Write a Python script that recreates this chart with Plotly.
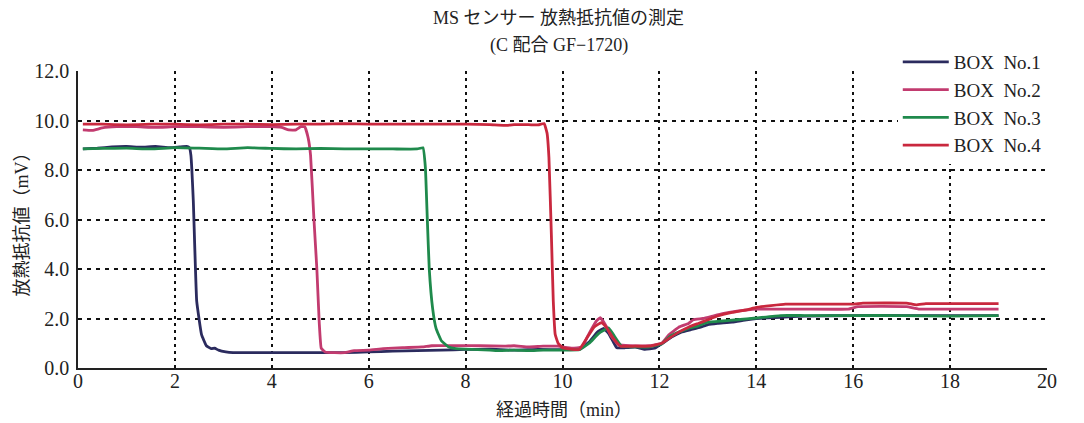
import plotly.graph_objects as go

# Elapsed time (min) and heat-dissipation resistance (mV) per box
box1_t = [0.1, 0.4, 0.7, 1.0, 1.3, 1.6, 1.9, 2.1, 2.25, 2.3, 2.33, 2.38, 2.45, 2.55, 2.65, 2.75, 2.82,
          2.9, 3.05, 3.2, 3.6, 4.0, 4.5, 5.0, 5.5, 6.0, 6.5, 7.0, 7.5, 8.0, 8.5, 9.0, 9.5, 10.0,
          10.35, 10.55, 10.72, 10.85, 10.95, 11.05, 11.12, 11.3, 11.5, 11.7, 11.9, 12.05, 12.25,
          12.45, 12.65, 12.85, 13.0, 13.2, 13.5, 13.8, 14.0, 14.5, 15.0, 16.0, 17.0, 18.0, 19.0]
box1_v = [8.85, 8.88, 8.93, 8.95, 8.92, 8.95, 8.9, 8.93, 8.95, 8.9, 8.6, 6.75, 2.7, 1.35, 0.9, 0.78, 0.8,
          0.72, 0.65, 0.62, 0.62, 0.62, 0.62, 0.62, 0.62, 0.65, 0.68, 0.7, 0.72, 0.75, 0.76, 0.72, 0.75, 0.74,
          0.76, 1.05, 1.45, 1.6, 1.4, 1.05, 0.82, 0.82, 0.84, 0.75, 0.8, 0.98, 1.25,
          1.45, 1.55, 1.65, 1.75, 1.8, 1.85, 1.95, 2.0, 2.05, 2.1, 2.12, 2.12, 2.12, 2.12]

box2_t = [0.1, 0.3, 0.5, 0.8, 1.2, 1.6, 2.0, 2.5, 3.0, 3.5, 4.0, 4.2, 4.35, 4.5, 4.6, 4.68, 4.75, 4.8,
          4.87, 4.93, 4.98, 5.02, 5.1, 5.3, 5.5, 5.7, 6.0, 6.3, 6.7, 7.1, 7.3, 7.8, 8.3, 8.8, 9.0, 9.3,
          9.6, 9.9, 10.2, 10.4, 10.55, 10.7, 10.78, 10.9, 11.0, 11.15, 11.4, 11.8, 12.05, 12.2, 12.4,
          12.6, 12.7, 12.9, 13.1, 13.3, 13.6, 14.0, 14.5, 15.0, 15.9, 16.1, 17.1, 17.35, 18.0, 19.0]
box2_v = [9.62, 9.6, 9.7, 9.75, 9.75, 9.72, 9.75, 9.75, 9.72, 9.75, 9.75, 9.72, 9.62, 9.62, 9.75, 9.75, 9.3, 8.6,
          6.0, 4.0, 1.8, 0.8, 0.65, 0.62, 0.62, 0.7, 0.72, 0.78, 0.82, 0.85, 0.9, 0.9, 0.9, 0.88, 0.9, 0.85,
          0.88, 0.88, 0.8, 0.85, 1.4, 1.9, 2.03, 1.7, 1.3, 0.95, 0.9, 0.9, 1.0, 1.35, 1.65,
          1.8, 1.95, 2.0, 2.1, 2.2, 2.3, 2.38, 2.38, 2.38, 2.38, 2.48, 2.48, 2.38, 2.38, 2.38]

box3_t = [0.1, 0.5, 1.0, 1.5, 2.0, 2.5, 3.0, 3.5, 4.0, 4.5, 5.0, 5.5, 6.0, 6.5, 7.0, 7.12, 7.17, 7.21,
          7.25, 7.32, 7.39, 7.5, 7.65, 7.8, 8.0, 8.5, 8.7, 9.0, 9.3, 9.6, 10.0, 10.35, 10.55, 10.75,
          10.95, 11.05, 11.22, 11.5, 11.8, 12.05, 12.2, 12.4, 12.6, 12.8, 13.0, 13.3, 13.6, 14.0,
          14.5, 15.0, 16.0, 17.0, 18.0, 19.0]
box3_v = [8.85, 8.87, 8.88, 8.85, 8.9, 8.88, 8.85, 8.9, 8.87, 8.85, 8.87, 8.85, 8.85, 8.85, 8.85, 8.9, 8.1, 6.0,
          4.0, 2.4, 1.6, 1.1, 0.85, 0.78, 0.76, 0.72, 0.7, 0.72, 0.7, 0.72, 0.72, 0.74, 1.0, 1.4,
          1.62, 1.35, 0.88, 0.85, 0.85, 0.98, 1.25, 1.45, 1.6, 1.7, 1.85, 1.9, 1.95, 2.02,
          2.12, 2.12, 2.12, 2.12, 2.1, 2.12]

box4_t = [0.1, 0.5, 1.0, 1.5, 2.0, 2.5, 3.0, 3.5, 4.0, 4.5, 5.0, 5.5, 6.0, 6.5, 7.0, 7.5, 8.0, 8.5,
          8.8, 9.0, 9.3, 9.5, 9.62, 9.68, 9.72, 9.77, 9.81, 9.85, 9.91, 10.0, 10.2, 10.35, 10.5,
          10.65, 10.8, 10.9, 11.05, 11.2, 11.5, 11.8, 12.05, 12.2, 12.4, 12.6, 12.8, 13.0, 13.2,
          13.5, 13.8, 14.0, 14.3, 14.6, 15.0, 16.0, 16.2, 17.1, 17.3, 17.5, 18.0, 19.0]
box4_v = [9.85, 9.85, 9.82, 9.85, 9.85, 9.82, 9.85, 9.85, 9.83, 9.85, 9.85, 9.87, 9.85, 9.85, 9.85, 9.85, 9.85, 9.83,
          9.8, 9.83, 9.83, 9.82, 9.88, 9.5, 8.5, 5.4, 2.7, 1.35, 1.0, 0.82, 0.75, 0.76, 1.2,
          1.65, 1.83, 1.65, 1.2, 0.88, 0.88, 0.88, 1.0, 1.2, 1.45, 1.65, 1.8, 1.95, 2.1,
          2.25, 2.35, 2.45, 2.52, 2.58, 2.58, 2.58, 2.62, 2.62, 2.55, 2.6, 2.6, 2.6]

series_names = ["BOX  No.1", "BOX  No.2", "BOX  No.3", "BOX  No.4"]
series_colors = ["#2b2b5e", "#c23b6f", "#1f8a4c", "#c9283e"]

x_ticks = [0, 2, 4, 6, 8, 10, 12, 14, 16, 18, 20]
y_ticks = [0, 2, 4, 6, 8, 10, 12]

SERIF = "Liberation Serif, Noto Sans CJK JP, serif"

fig = go.Figure()
for name, color, t, v in zip(series_names, series_colors,
                             [box1_t, box2_t, box3_t, box4_t],
                             [box1_v, box2_v, box3_v, box4_v]):
    fig.add_trace(go.Scatter(x=t, y=v, mode="lines", name=name,
                             line=dict(color=color, width=2.8, shape="spline", smoothing=0.3)))

fig.update_layout(
    width=1084, height=423,
    margin=dict(l=78, r=37, t=71, b=55),
    paper_bgcolor="white", plot_bgcolor="white",
    font=dict(family=SERIF, color="#222222", size=19),
    showlegend=True,
    legend=dict(x=0.846, y=1.094, xanchor="left", yanchor="top",
                bgcolor="white", borderwidth=0, itemwidth=46,
                font=dict(family=SERIF, size=19, color="#222222"),
                tracegroupgap=0),
)

fig.update_xaxes(
    range=[0, 20], tickvals=x_ticks, ticktext=[str(v) for v in x_ticks],
    showline=True, linecolor="#222222", linewidth=1.5,
    showgrid=True, gridcolor="#111111", gridwidth=2.2, griddash="3px,4px",
    zeroline=False, ticks="", ticklabelstandoff=-6,
    tickfont=dict(family=SERIF, size=20, color="#222222"),
)
fig.update_yaxes(
    range=[0, 12], tickvals=y_ticks, ticktext=[f"{v:.1f}" for v in y_ticks],
    showline=True, linecolor="#222222", linewidth=1.5,
    showgrid=True, gridcolor="#111111", gridwidth=1.6, griddash="4px,5px",
    zeroline=False, ticks="", ticklabelstandoff=3,
    tickfont=dict(family=SERIF, size=20, color="#222222"),
)

# Title (two lines) and axis titles
fig.add_annotation(text="MS センサー 放熱抵抗値の測定", x=0.4954, y=1.178, xref="paper", yref="paper",
                   xanchor="center", yanchor="middle", showarrow=False,
                   font=dict(family=SERIF, size=18, color="#222222"))
fig.add_annotation(text="(C 配合 GF−1720)", x=0.4964, y=1.0875, xref="paper", yref="paper",
                   xanchor="center", yanchor="middle", showarrow=False,
                   font=dict(family=SERIF, size=18, color="#222222"))
fig.add_annotation(text="放熱抵抗値（mV）", x=-0.0578, y=0.5, xref="paper", yref="paper",
                   xanchor="center", yanchor="middle", textangle=-90, showarrow=False,
                   font=dict(family=SERIF, size=18, color="#222222"))
fig.add_annotation(text="経過時間（min）", x=0.5015, y=-0.1414, xref="paper", yref="paper",
                   xanchor="center", yanchor="middle", showarrow=False,
                   font=dict(family=SERIF, size=18, color="#222222"))

fig.write_html("out.html")
